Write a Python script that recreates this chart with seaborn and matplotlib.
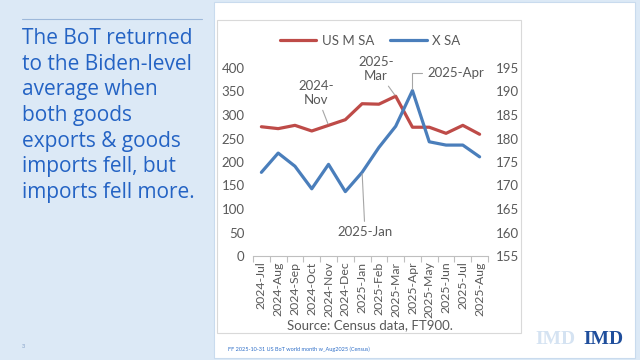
import matplotlib.pyplot as plt
import seaborn as sns
import pandas as pd
import numpy as np
from matplotlib.patches import Rectangle
from matplotlib.lines import Line2D

sns.set_theme(style="white")
plt.rcParams['font.family'] = ['Lato', 'DejaVu Sans']

months = ['2024-Jul', '2024-Aug', '2024-Sep', '2024-Oct', '2024-Nov', '2024-Dec',
          '2025-Jan', '2025-Feb', '2025-Mar', '2025-Apr', '2025-May', '2025-Jun',
          '2025-Jul', '2025-Aug']
imports_sa = [275, 271, 278, 266, 278, 290, 324, 323, 340, 274, 274, 261, 278, 259]
exports_sa = [172.8, 176.9, 174.1, 169.3, 174.5, 168.7, 172.8, 178.1, 182.6, 190.2,
              179.3, 178.6, 178.6, 176.1]
left_ticks = [0, 50, 100, 150, 200, 250, 300, 350, 400]
right_ticks = [155, 160, 165, 170, 175, 180, 185, 190, 195]

df = pd.DataFrame({'Month': months, 'US M SA': imports_sa, 'X SA': exports_sa})

red = '#BE4B48'
blue = '#4A7EBB'
grey_txt = '#595959'

W, H = 640, 360
fig = plt.figure(figsize=(6.4, 3.6), dpi=100)
fig.patch.set_facecolor('#DCE9F6')

# white slide area + chart frame (behind the axes)
fig.add_artist(Rectangle((214 / W, 2 / H), 421 / W, 356 / H, transform=fig.transFigure,
                         facecolor='white', edgecolor='#C9DBEE', lw=0.8, zorder=-2))
fig.add_artist(Rectangle((217 / W, 1 - 333 / H), 304 / W, 313 / H, transform=fig.transFigure,
                         facecolor='white', edgecolor='#D9D9D9', lw=0.8, zorder=-1))

# left panel text
fig.add_artist(Line2D([22 / W, 202 / W], [1 - 19 / H, 1 - 19 / H], transform=fig.transFigure,
                      color='#9DB8DA', lw=0.8))
fig.text(22 / W, 1 - 28 / H,
         "The BoT returned\nto the Biden-level\naverage when\nboth goods\nexports & goods\nimports fell, but\nimports fell more.",
         ha='left', va='top', fontsize=15, color='#2463C4', linespacing=1.29,
         family=['Open Sans', 'DejaVu Sans'])
fig.text(23 / W, 1 - 346 / H, "3", fontsize=4, color='#7F9CC4', ha='center', va='center')
fig.text(228 / W, 1 - 349 / H, "FF 2025-10-31 US BoT world month w_Aug2025 (Census)",
         fontsize=4, color='#2F6FC8', ha='left', va='center')
fig.text(535 / W, 1 - 340 / H, "IMD", fontsize=14, fontweight='bold', color='#D5E3F2',
         family=['Liberation Serif'], ha='left', va='center')
fig.text(583 / W, 1 - 340 / H, "IMD", fontsize=14, fontweight='bold', color='#1F4E9C',
         family=['Liberation Serif'], ha='left', va='center')

# chart
ax = fig.add_axes([253 / W, 1 - 256 / H, 235 / W, 188 / H])
ax.set_facecolor('none')
ax2 = ax.twinx()

sns.lineplot(data=df, x='Month', y='US M SA', ax=ax, color=red, lw=2.3, sort=False)
sns.lineplot(data=df, x='Month', y='X SA', ax=ax2, color=blue, lw=2.3, sort=False)

ax.set_xlim(-0.5, len(months) - 0.5)
ax.set_ylim(left_ticks[0], left_ticks[-1])
ax2.set_ylim(right_ticks[0], right_ticks[-1])
ax.set_yticks(left_ticks)
ax2.set_yticks(right_ticks)
ax.set_xticks(range(len(months)))
ax.set_xticklabels(months, rotation=90)
ax.set_xticks(np.arange(-0.5, len(months), 1), minor=True)
ax.set_xlabel('')
ax.set_ylabel('')
ax2.set_ylabel('')

for a in (ax, ax2):
    for s in ('top', 'left', 'right', 'bottom'):
        a.spines[s].set_visible(False)
    a.tick_params(axis='y', length=0, labelsize=9.5, labelcolor=grey_txt, pad=6)
    a.grid(False)
ax.spines['bottom'].set_visible(True)
ax.spines['bottom'].set_color('#BFBFBF')
ax.spines['bottom'].set_linewidth(0.8)
ax.tick_params(axis='x', which='major', length=0, labelsize=8.8, labelcolor=grey_txt, pad=4)
ax.tick_params(axis='x', which='minor', length=4, width=0.8, color='#BFBFBF', direction='out',
               bottom=True)

# annotations
arrow = dict(arrowstyle='-', color='#A6A6A6', lw=0.8, shrinkA=1, shrinkB=1)
ax.annotate("2024-\nNov", xy=(4, imports_sa[4]), xytext=(316, H - 93), textcoords='figure pixels',
            ha='center', va='center', fontsize=9.5, color=grey_txt, linespacing=1.15,
            arrowprops=arrow)
ax.annotate("2025-\nMar", xy=(8, imports_sa[8]), xytext=(376, H - 69), textcoords='figure pixels',
            ha='center', va='center', fontsize=9.5, color=grey_txt, linespacing=1.15,
            arrowprops=arrow)
ax2.annotate("2025-Apr", xy=(9, exports_sa[9]), xytext=(427, H - 73), textcoords='figure pixels',
             ha='left', va='center', fontsize=9.5, color=grey_txt,
             arrowprops=dict(arrow, connectionstyle="angle,angleA=0,angleB=90,rad=0"))
ax2.annotate("2025-Jan", xy=(6, exports_sa[6]), xytext=(365, H - 232), textcoords='figure pixels',
             ha='center', va='center', fontsize=9.5, color=grey_txt, arrowprops=arrow)

handles = [Line2D([], [], color=red, lw=2.3), Line2D([], [], color=blue, lw=2.3)]
fig.legend(handles, ['US M SA', 'X SA'], loc='center', bbox_to_anchor=(370 / W, 1 - 41 / H),
           ncol=2, frameon=False, fontsize=9.5, handlelength=2.8, columnspacing=1.2,
           handletextpad=0.4, labelcolor=grey_txt)

fig.text(370 / W, 1 - 325 / H, "Source: Census data, FT900.", fontsize=9.5, color=grey_txt,
         ha='center', va='center')

fig.savefig('out.png', dpi=100, facecolor=fig.get_facecolor())
